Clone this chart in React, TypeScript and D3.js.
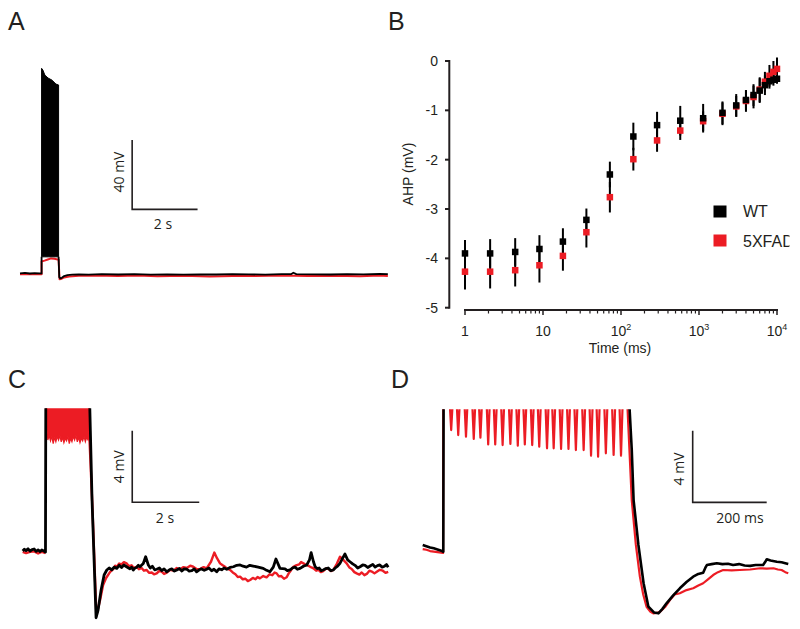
import React from "react";
import * as d3 from "d3";

type P = [number, number];

const RED = "#ec1c24";
const INK = "#231f20";
const SANS = "'Liberation Sans', Arial, sans-serif";
const SCALEFONT = "'Open Sans', 'DejaVu Sans', sans-serif";

// ---------- Panel A (time s, membrane potential mV rel. baseline) ----------
const aBlackPre: P[] = [[0, 0], [0.15, 0.2], [0.3, -0.1], [0.45, 0.15], [0.6, 0], [0.66, 0], [0.66, 9.5]];
const aSpikeTop: P[] = [[0.66, 118.3], [0.7, 117.3], [0.76, 114.4], [0.86, 112.7], [0.98, 111.5], [1.1, 109.2], [1.18, 108.7]];
const aSpikeFloor = 9.5;
const aBlackPost: P[] = [
  [1.18, 9.5], [1.2, -2.2], [1.23, -2.9], [1.28, -2.6], [1.35, -1.6], [1.45, -1.0], [1.6, -0.8], [1.8, -0.7],
  [2.1, -0.8], [2.5, -0.5], [3, -0.7], [3.5, -0.5], [4, -0.8], [4.5, -0.6], [5, -0.8], [5.5, -0.6], [6, -0.7],
  [6.5, -0.5], [7, -0.6], [7.5, -0.8], [8, -0.5], [8.3, -0.4], [8.36, 0.3], [8.45, -0.5], [9, -0.6], [9.5, -0.7],
  [10, -0.5], [10.5, -0.6], [11, -0.4], [11.25, -0.5],
];
const aRed: P[] = [
  [0, -0.6], [0.3, -0.4], [0.66, -0.5], [0.66, 6.8], [0.75, 7.3], [0.85, 8.0], [0.95, 8.6], [1.05, 8.4],
  [1.15, 8.0], [1.18, 7.8], [1.21, -3.4], [1.25, -3.3], [1.35, -2.4], [1.5, -1.8], [1.8, -1.4], [2.3, -1.3],
  [3, -1.6], [3.6, -1.3], [4.2, -1.7], [5, -1.4], [5.8, -1.8], [6.5, -1.5], [7.2, -1.6], [8, -1.3], [8.8, -1.6],
  [9.6, -1.4], [10.4, -1.7], [11, -1.3], [11.25, -1.5],
];

// ---------- Panel B ----------
const bTimes = [1, 2.1, 4.4, 9, 18, 36, 72, 144, 290, 575, 1130, 2000, 3000, 4000, 5000, 6000, 7000, 8000, 9000, 10000];
const wtMean = [-3.9, -3.9, -3.87, -3.81, -3.66, -3.22, -2.3, -1.53, -1.3, -1.21, -1.16, -1.05, -0.9, -0.79, -0.69, -0.6, -0.49, -0.41, -0.38, -0.36];
const wtErr = [0.27, 0.29, 0.28, 0.28, 0.27, 0.23, 0.26, 0.28, 0.27, 0.3, 0.29, 0.23, 0.23, 0.2, 0.22, 0.25, 0.2, 0.15, 0.12, 0.1];
const fadMean = [-4.27, -4.27, -4.24, -4.14, -3.95, -3.47, -2.76, -1.99, -1.61, -1.41, -1.22, -1.07, -0.92, -0.81, -0.73, -0.58, -0.42, -0.3, -0.22, -0.16];
const fadErr = [0.36, 0.34, 0.33, 0.35, 0.3, 0.31, 0.31, 0.23, 0.23, 0.19, 0.2, 0.23, 0.21, 0.22, 0.23, 0.25, 0.2, 0.22, 0.22, 0.23];
const bYTicks = [0, -1, -2, -3, -4, -5];
const bXDecades = [0, 1, 2, 3, 4];
const legendLabels = ["WT", "5XFAD"];

// ---------- Panel C (time s, mV) ----------
const cBlack: P[] = [
  [0, 0], [0.05, 0.1], [0.1, 0.02], [0.16, 0.12], [0.22, 0], [0.28, 0.08], [0.34, 0.11], [0.4, -0.02], [0.46, 0.06],
  [0.52, -0.03], [0.57, 0.06], [0.63, 0.0], [0.68, -0.06],
  [0.69, 9], [1.99, 9], [2.07, 2.85], [2.19, -3.73], [2.25, -3.3], [2.34, -2.18], [2.43, -1.34], [2.51, -1.06],
  [2.58, -0.95], [2.66, -1.05], [2.73, -0.9], [2.81, -0.97], [2.88, -0.8], [2.95, -0.92], [3.02, -0.78], [3.1, -0.88],
  [3.2, -1.0], [3.25, -0.9], [3.3, -1.06], [3.35, -0.95], [3.4, -0.92], [3.45, -0.8], [3.5, -0.88],
  [3.6, -0.7], [3.67, -0.32], [3.75, -0.78], [3.81, -0.95], [3.87, -0.85], [3.94, -1.05], [4.0, -1.02], [4.08, -0.95],
  [4.15, -1.1], [4.22, -1.0], [4.3, -1.16], [4.38, -1.05], [4.45, -1.0], [4.53, -1.12],
  [4.6, -1.06], [4.68, -0.98], [4.75, -1.12], [4.82, -1.0], [4.9, -1.02], [4.97, -1.12], [5.05, -1.1], [5.12, -1.0],
  [5.19, -1.16], [5.27, -1.05], [5.34, -1.0], [5.42, -1.08], [5.49, -1.02], [5.56, -0.95], [5.64, -1.1], [5.71, -1.02],
  [5.79, -1.16], [5.86, -1.0], [5.94, -1.05], [6.01, -0.95], [6.09, -1.02], [6.19, -0.92], [6.29, -0.88], [6.39, -0.8],
  [6.49, -0.78], [6.58, -0.85], [6.68, -0.9], [6.78, -0.8], [6.88, -0.84],
  [7.03, -0.9], [7.18, -0.97], [7.28, -1.08], [7.38, -1.16], [7.48, -0.9], [7.56, -0.45], [7.68, -0.97], [7.83, -1.0],
  [7.9, -1.1], [7.98, -1.06], [8.05, -0.95], [8.13, -0.9], [8.2, -1.02], [8.28, -0.97], [8.38, -0.85], [8.48, -0.78],
  [8.56, -0.5], [8.61, -0.09], [8.68, -0.6],
  [8.73, -0.88], [8.79, -0.98], [8.85, -0.95], [8.91, -1.1], [8.97, -1.06], [9.05, -0.98], [9.12, -0.95],
  [9.2, -1.1], [9.27, -1.06], [9.33, -0.95], [9.4, -0.85], [9.47, -0.69],
  [9.55, -0.4], [9.62, -0.17], [9.7, -0.5], [9.77, -0.6], [9.85, -0.72], [9.92, -0.8], [10.0, -0.95], [10.07, -0.88],
  [10.15, -0.78], [10.22, -0.8], [10.3, -0.92], [10.37, -0.84], [10.45, -0.75], [10.52, -0.9], [10.59, -0.82],
  [10.66, -0.78], [10.73, -0.9], [10.8, -0.85], [10.86, -0.76], [10.91, -0.91],
];
const cRedPre: P[] = [[0, -0.05], [0.1, -0.12], [0.22, -0.05], [0.34, -0.02], [0.46, -0.14], [0.57, -0.05], [0.68, -0.12]];
const cRedEnv: P[] = [
  [0.69, 7.0], [0.72, 6.9], [0.75, 6.2], [0.79, 6.45], [0.83, 6.15], [0.87, 6.4], [0.91, 6.0], [0.95, 6.35],
  [0.99, 6.1], [1.03, 6.4], [1.07, 6.2], [1.11, 6.45], [1.15, 6.1], [1.19, 6.35], [1.23, 6.05], [1.27, 6.3],
  [1.31, 6.15], [1.35, 6.4], [1.39, 6.0], [1.43, 6.3], [1.47, 6.1], [1.51, 6.4], [1.55, 6.2], [1.59, 6.45],
  [1.63, 6.1], [1.67, 6.35], [1.71, 6.05], [1.75, 6.3], [1.79, 6.15], [1.83, 6.4], [1.87, 6.1], [1.91, 6.35],
  [1.95, 6.2], [1.99, 6.4],
];
const cRedPost: P[] = [
  [1.99, 6.4], [2.08, 2.5], [2.2, -3.6], [2.31, -2.74], [2.4, -1.9], [2.49, -1.51], [2.61, -1.17], [2.71, -1.0],
  [2.76, -0.82], [2.81, -0.88], [2.88, -0.7], [2.95, -0.75], [3.02, -0.62], [3.1, -0.69], [3.17, -0.85], [3.25, -0.8],
  [3.32, -0.95], [3.4, -0.88], [3.47, -1.02], [3.55, -0.95], [3.62, -1.1], [3.7, -1.06], [3.77, -1.22], [3.85, -1.2],
  [3.92, -1.3], [4.0, -1.25], [4.07, -1.12], [4.15, -1.15], [4.22, -1.28], [4.3, -1.21], [4.4, -1.05], [4.5, -1.1],
  [4.6, -0.95], [4.7, -1.02], [4.8, -0.9], [4.9, -0.95], [5.0, -0.82], [5.09, -0.88], [5.2, -1.02], [5.3, -1.0],
  [5.4, -0.9], [5.49, -0.97], [5.62, -0.6], [5.72, -0.09], [5.8, -0.4], [5.89, -0.69], [5.97, -0.8], [6.05, -0.9],
  [6.12, -1.0], [6.19, -1.06], [6.27, -1.2], [6.35, -1.3], [6.42, -1.45], [6.49, -1.43], [6.57, -1.58], [6.65, -1.55],
  [6.72, -1.68], [6.79, -1.62], [6.87, -1.5], [6.95, -1.58], [7.01, -1.45], [7.08, -1.53], [7.18, -1.4], [7.28, -1.47],
  [7.37, -1.3], [7.45, -1.35], [7.52, -1.2], [7.58, -1.25], [7.65, -1.42], [7.72, -1.4], [7.8, -1.55], [7.88, -1.47],
  [7.94, -1.25], [8.0, -1.1], [8.08, -0.88], [8.16, -0.8], [8.25, -0.75], [8.31, -0.62], [8.38, -0.69], [8.46, -0.78],
  [8.55, -0.85], [8.62, -0.92], [8.68, -0.97], [8.76, -1.1], [8.83, -1.05], [8.9, -1.18], [8.97, -1.12], [9.05, -0.98],
  [9.12, -1.0], [9.2, -1.12], [9.27, -1.06], [9.38, -0.7], [9.47, -0.32], [9.57, -0.5], [9.67, -0.69], [9.75, -0.92],
  [9.82, -1.0], [9.9, -1.18], [9.97, -1.25], [10.05, -1.32], [10.12, -1.2], [10.2, -1.35], [10.27, -1.28],
  [10.35, -1.1], [10.42, -1.15], [10.5, -1.25], [10.57, -1.16], [10.66, -1.05], [10.75, -1.1], [10.83, -1.22],
  [10.91, -1.16],
];

// ---------- Panel D (time ms, mV) ----------
const dBlack: P[] = [
  [0, 0.17], [10, 0.1], [20, 0.03], [30, -0.02], [40, -0.08], [50, -0.15], [55.7, -0.21], [56.5, 9], [556, 9],
  [565, 5.5], [570, 2.68], [583, 0.17], [597, -1.97], [610, -3.28], [625, -3.6], [637, -3.65], [648, -3.4],
  [659, -3.09], [677, -2.65], [695, -2.25], [713, -1.9], [731, -1.6], [745, -1.45], [758, -1.38], [764, -1.1],
  [768, -0.95], [781, -0.9], [795, -0.85], [810, -0.9], [825, -0.88], [839, -0.95], [855, -0.9], [870, -0.98],
  [885, -1.0], [900, -0.95], [920, -0.95], [925, -0.8], [930, -0.63], [940, -0.7], [957, -0.77], [970, -0.8],
  [980, -0.85], [988, -0.89],
];
const dRedPre: P[] = [[0, -0.06], [10, -0.1], [20, -0.17], [30, -0.2], [40, -0.23], [55, -0.28], [55.7, 8.5]];
const dDipTimes = [76, 95, 116, 137, 155, 176, 195, 215, 236, 256, 275, 295, 314, 335, 353, 373, 393, 413, 434, 454, 473, 494, 515, 535];
const dDipDepths = [6.59, 6.31, 6.22, 6.09, 6.16, 5.79, 5.79, 5.75, 5.81, 5.72, 5.79, 5.75, 5.66, 5.57, 5.57, 5.53, 5.53, 5.47, 5.47, 5.16, 5.1, 5.29, 5.2, 5.16];
const dRedPost: P[] = [
  [552, 8.5], [565, 2.68], [576, 0.2], [587, -1.6], [596, -2.6], [605, -3.28], [615, -3.55], [623, -3.65],
  [632, -3.62], [641, -3.58], [655, -3.3], [668, -2.91], [681, -2.6], [695, -2.53], [713, -2.35], [731, -2.25],
  [745, -2.1], [758, -1.97], [771, -1.75], [785, -1.51], [798, -1.35], [812, -1.23], [835, -1.25], [857, -1.23],
  [885, -1.2], [912, -1.13], [930, -1.15], [948, -1.13], [960, -1.2], [970, -1.23], [980, -1.35], [988, -1.41],
];

function ScaleBar({ x0, y0, x1, y1, vLabel, hLabel, vLabelX, vLabelY, hLabelX, hLabelY }: any) {
  return (
    <g>
      <path d={`M${x0},${y1}V${y0}H${x1}`} fill="none" stroke={INK} strokeWidth={1.6} />
      <text transform={`translate(${vLabelX},${vLabelY}) rotate(-90)`} textAnchor="middle" fontFamily={SCALEFONT} fontSize={14} fill={INK}>{vLabel}</text>
      <text x={hLabelX} y={hLabelY} textAnchor="middle" fontFamily={SCALEFONT} fontSize={14} fill={INK}>{hLabel}</text>
    </g>
  );
}

export default function App() {
  // Panel A scales
  const xA = d3.scaleLinear().domain([0, 11.3]).range([20, 389.5]);
  const yA = d3.scaleLinear().domain([0, 40]).range([273.3, 204]);
  const lineA = d3.line<P>().x((d) => xA(d[0])).y((d) => yA(d[1]));
  const areaA = d3.area<P>().x((d) => xA(d[0])).y0(yA(aSpikeFloor)).y1((d) => yA(d[1]));

  // Panel B scales
  const xB = d3.scaleLog().domain([1, 1e4]).range([465, 777]);
  const yB = d3.scaleLinear().domain([-5, 0]).range([307.7, 61]);

  // Panel C scales
  const xC = d3.scaleLinear().domain([0, 11]).range([22.7, 391.2]);
  const yC = d3.scaleLinear().domain([0, 4]).range([551, 479.4]);
  const lineC = d3.line<P>().x((d) => xC(d[0])).y((d) => yC(d[1]));
  const areaC = d3.area<P>().x((d) => xC(d[0])).y0(yC(9)).y1((d) => yC(d[1]));

  // Panel D scales
  const xD = d3.scaleLinear().domain([0, 1000]).range([422.7, 792.7]);
  const yD = d3.scaleLinear().domain([0, 4]).range([548, 476.4]);
  const lineD = d3.line<P>().x((d) => xD(d[0])).y((d) => yD(d[1]));
  const dipPts: P[] = [];
  dDipTimes.forEach((t, i) => {
    dipPts.push([t - 4, 8.5], [t + 1, dDipDepths[i]], [t + 6, 8.5]);
  });
  const dRed: P[] = [...dRedPre, ...dipPts, ...dRedPost];

  // B minor ticks
  const minorTicks: number[] = [];
  for (let e = 0; e < 4; e++) for (let m = 2; m <= 9; m++) minorTicks.push(m * Math.pow(10, e));

  const sq = 6.5;

  return (
    <svg width={800} height={629} style={{ position: "absolute", left: 0, top: 0, display: "block", background: "#fff" }}>
      <defs>
        <clipPath id="clipC"><rect x={0} y={yC(7.97)} width={400} height={300} /></clipPath>
        <clipPath id="clipD"><rect x={400} y={yD(7.75)} width={400} height={300} /></clipPath>
        <clipPath id="clipLeg"><rect x={700} y={190} width={89.5} height={70} /></clipPath>
      </defs>
      <rect x={0} y={0} width={800} height={629} fill="#fff" />

      {/* Panel labels */}
      <g fontFamily={SANS} fontSize={25} fill={INK}>
        <text x={8} y={30}>A</text>
        <text x={388} y={30}>B</text>
        <text x={8} y={388}>C</text>
        <text x={391} y={388}>D</text>
      </g>

      {/* Panel A */}
      <g>
        <path d={lineA(aRed) || ""} fill="none" stroke={RED} strokeWidth={2} strokeLinejoin="round" />
        <path d={lineA(aBlackPre) || ""} fill="none" stroke="#000" strokeWidth={1.8} />
        <path d={areaA(aSpikeTop) || ""} fill="#000" stroke="#000" strokeWidth={1} />
        <path d={lineA(aBlackPost) || ""} fill="none" stroke="#000" strokeWidth={1.8} strokeLinejoin="round" />
        <ScaleBar x0={xA(3.43)} y0={yA(36.9)} x1={xA(5.43)} y1={yA(76.9)} vLabel="40 mV" hLabel="2 s"
          vLabelX={124} vLabelY={172} hLabelX={163} hLabelY={229} />
      </g>

      {/* Panel B */}
      <g>
        <line x1={449.3} x2={449.3} y1={yB(0) - 1} y2={yB(-5) + 1} stroke={INK} strokeWidth={2} />
        {bYTicks.map((v) => (
          <g key={v}>
            <line x1={445} x2={449.3} y1={yB(v)} y2={yB(v)} stroke={INK} strokeWidth={2} />
            <text x={438} y={yB(v) + 5} textAnchor="end" fontFamily={SANS} fontSize={14} fill={INK}>{v === 0 ? "0" : `-${-v}`}</text>
          </g>
        ))}
        <line x1={xB(1) - 1} x2={xB(1e4) + 1} y1={310} y2={310} stroke={INK} strokeWidth={2} />
        {bXDecades.map((e) => (
          <line key={e} x1={xB(Math.pow(10, e))} x2={xB(Math.pow(10, e))} y1={310} y2={315} stroke={INK} strokeWidth={1.5} />
        ))}
        {minorTicks.map((t) => (
          <line key={t} x1={xB(t)} x2={xB(t)} y1={310} y2={313.5} stroke={INK} strokeWidth={1.2} />
        ))}
        {bXDecades.map((e) => (
          <text key={e} x={xB(Math.pow(10, e))} y={336} textAnchor="middle" fontFamily={SANS} fontSize={14} fill={INK}>
            {e === 0 ? "1" : e === 1 ? "10" : (<><tspan>10</tspan><tspan fontSize={9} dy={-6}>{e}</tspan></>)}
          </text>
        ))}
        <text x={620} y={353} textAnchor="middle" fontFamily={SANS} fontSize={14} fill={INK}>Time (ms)</text>
        <text transform="translate(413,174) rotate(-90)" textAnchor="middle" fontFamily={SANS} fontSize={14} fill={INK}>AHP (mV)</text>

        {bTimes.map((t, i) => (
          <g key={"e" + i} stroke="#000" strokeWidth={2}>
            <line x1={xB(t)} x2={xB(t)} y1={yB(wtMean[i] + wtErr[i])} y2={yB(wtMean[i] - wtErr[i])} />
            <line x1={xB(t)} x2={xB(t)} y1={yB(fadMean[i] + fadErr[i])} y2={yB(fadMean[i] - fadErr[i])} />
          </g>
        ))}
        {bTimes.map((t, i) => (
          <rect key={"r" + i} x={xB(t) - sq / 2} y={yB(fadMean[i]) - sq / 2} width={sq} height={sq} fill={RED} />
        ))}
        {bTimes.map((t, i) => (
          <rect key={"b" + i} x={xB(t) - sq / 2} y={yB(wtMean[i]) - sq / 2} width={sq} height={sq} fill="#000" />
        ))}

        {/* legend */}
        <g clipPath="url(#clipLeg)">
          {legendLabels.map((lab, i) => (
            <g key={lab}>
              <rect x={713.5} y={205.5 + i * 29} width={13} height={12} fill={i === 0 ? "#000" : RED} />
              <text x={743} y={217 + i * 29.5} fontFamily={SANS} fontSize={16} fill={INK}>{lab}</text>
            </g>
          ))}
        </g>
      </g>

      {/* Panel C */}
      <g clipPath="url(#clipC)">
        <path d={lineC(cRedPre) || ""} fill="none" stroke={RED} strokeWidth={2.4} strokeLinejoin="round" />
        <path d={areaC(cRedEnv) || ""} fill={RED} stroke={RED} strokeWidth={1.2} />
        <path d={lineC(cRedPost) || ""} fill="none" stroke={RED} strokeWidth={2.4} strokeLinejoin="round" />
        <path d={lineC(cBlack) || ""} fill="none" stroke="#000" strokeWidth={2.8} strokeLinejoin="round" />
      </g>
      <ScaleBar x0={xC(3.27)} y0={yC(2.72)} x1={xC(5.27)} y1={yC(6.72)} vLabel="4 mV" hLabel="2 s"
        vLabelX={123.5} vLabelY={466.7} hLabelX={165} hLabelY={523} />

      {/* Panel D */}
      <g clipPath="url(#clipD)">
        <path d={lineD(dRed) || ""} fill="none" stroke={RED} strokeWidth={2.2} strokeLinejoin="round" />
        <path d={lineD(dBlack) || ""} fill="none" stroke="#000" strokeWidth={2.6} strokeLinejoin="round" />
      </g>
      <ScaleBar x0={xD(729.7)} y0={yD(2.55)} x1={xD(929.7)} y1={yD(6.55)} vLabel="4 mV" hLabel="200 ms"
        vLabelX={683.5} vLabelY={469} hLabelX={740} hLabelY={523.3} />
    </svg>
  );
}
